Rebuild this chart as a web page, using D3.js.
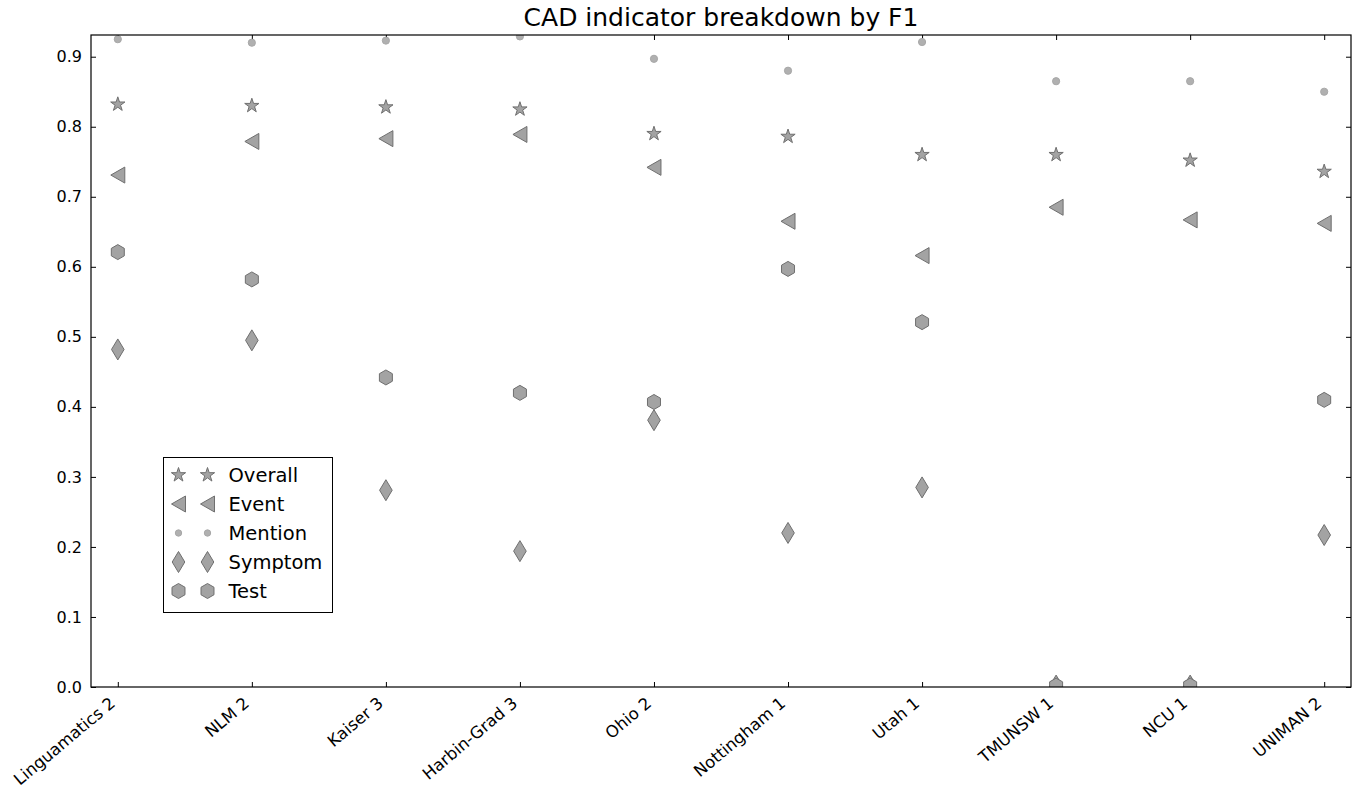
<!DOCTYPE html>
<html>
<head>
<meta charset="utf-8">
<script src="https://cdn.jsdelivr.net/npm/d3@7"></script>
<style>
  body { margin: 0; background: #fff; }
  svg { font-family: "DejaVu Sans", sans-serif; }
</style>
</head>
<body>
<div id="chart"></div>
<script>
(function () {
  "use strict";

  // Data.
  var systems = ["Linguamatics 2", "NLM 2", "Kaiser 3", "Harbin-Grad 3", "Ohio 2",
    "Nottingham 1", "Utah 1", "TMUNSW 1", "NCU 1", "UNIMAN 2"];
  var overall = [0.832, 0.830, 0.828, 0.825, 0.790, 0.786, 0.760, 0.760, 0.752, 0.736];
  var eventF1 = [0.731, 0.779, 0.783, 0.789, 0.742, 0.665, 0.616, 0.685, 0.667, 0.662];
  var mention = [0.925, 0.920, 0.923, 0.929, 0.897, 0.880, 0.921, 0.865, 0.865, 0.850];
  var symptom = [0.482, 0.495, 0.281, 0.194, 0.381, 0.220, 0.285, 0.002, 0.002, 0.217];
  var test = [0.621, 0.582, 0.442, 0.420, 0.407, 0.597, 0.521, 0.002, 0.002, 0.410];
  var yTicks = [0.0, 0.1, 0.2, 0.3, 0.4, 0.5, 0.6, 0.7, 0.8, 0.9];

  var W = 1363, H = 791;
  var m = { left: 91, right: 12, top: 35, bottom: 104 };
  var iw = W - m.left - m.right, ih = H - m.top - m.bottom;

  var FILL = "#a3a3a3", EDGE = "#6f6f6f";

  // Marker shape generators (path strings centred on 0,0).
  function star(r) {
    var pts = [], ri = r * 0.382;
    for (var i = 0; i < 10; i++) {
      var a = -Math.PI / 2 + i * Math.PI / 5, rr = i % 2 ? ri : r;
      pts.push([rr * Math.cos(a), rr * Math.sin(a)]);
    }
    return "M" + pts.join("L") + "Z";
  }
  function triLeft(w, h) { return "M" + (-w) + ",0L" + w + "," + (-h) + "L" + w + "," + h + "Z"; }
  function hexagon(r) {
    var pts = [];
    for (var i = 0; i < 6; i++) {
      var a = -Math.PI / 2 + i * Math.PI / 3;
      pts.push([r * Math.cos(a), r * Math.sin(a)]);
    }
    return "M" + pts.join("L") + "Z";
  }
  function diamond(w, h) { return "M0," + (-h) + "L" + w + ",0L0," + h + "L" + (-w) + ",0Z"; }

  var series = [
    { name: "Overall", values: overall, path: star(7.5), fill: FILL, stroke: EDGE },
    { name: "Event", values: eventF1, path: triLeft(7, 8), fill: FILL, stroke: EDGE },
    { name: "Mention", values: mention, path: null, fill: "#b0b0b0", stroke: "#a8a8a8" },
    { name: "Symptom", values: symptom, path: diamond(6.3, 10.5), fill: FILL, stroke: EDGE },
    { name: "Test", values: test, path: hexagon(7.5), fill: FILL, stroke: EDGE }
  ];

  var x = d3.scaleLinear().domain([-0.2, systems.length - 1 + 0.2]).range([0, iw]);
  var y = d3.scaleLinear().domain([0, 0.931]).range([ih, 0]);

  var svg = d3.select("#chart").append("svg").attr("width", W).attr("height", H);
  var g = svg.append("g").attr("transform", "translate(" + m.left + "," + m.top + ")");

  svg.append("text")
    .attr("x", m.left + iw / 2).attr("y", 26)
    .attr("text-anchor", "middle").attr("font-size", 25).attr("fill", "#000")
    .text("CAD indicator breakdown by F1");

  g.append("clipPath").attr("id", "plotclip")
    .append("rect").attr("width", iw).attr("height", ih);

  // Axes with inward ticks on all four sides.
  var idx = d3.range(systems.length);
  function style(sel) {
    sel.select(".domain").remove();
    sel.selectAll(".tick line").attr("stroke", "#000");
    sel.selectAll(".tick text").attr("fill", "#000").attr("font-family", "DejaVu Sans, sans-serif");
  }
  g.append("g").call(d3.axisLeft(y).tickValues(yTicks).tickFormat(d3.format(".1f")).tickSize(-5).tickPadding(9))
    .call(style).attr("font-size", 16);
  g.append("g").attr("transform", "translate(" + iw + ",0)")
    .call(d3.axisRight(y).tickValues(yTicks).tickSize(-5).tickFormat(""))
    .call(style);
  g.append("g").call(d3.axisTop(x).tickValues(idx).tickSize(-5).tickFormat(""))
    .call(style);
  var xAxis = g.append("g").attr("transform", "translate(0," + ih + ")")
    .call(d3.axisBottom(x).tickValues(idx).tickSize(-5).tickFormat(function (i) { return systems[i]; }))
    .call(style).attr("font-size", 16.5);
  // Labels: baseline end sits just below-left of the tick.
  xAxis.selectAll(".tick text")
    .attr("text-anchor", "end")
    .attr("x", 0).attr("y", 0).attr("dy", 0)
    .attr("transform", "translate(-2,18) rotate(-40)");

  // Markers.
  var plot = g.append("g").attr("clip-path", "url(#plotclip)");
  series.forEach(function (s) {
    var sel = plot.append("g").selectAll(null).data(s.values).join(s.path ? "path" : "circle");
    if (s.path) {
      sel.attr("d", s.path)
        .attr("transform", function (v, i) { return "translate(" + x(i) + "," + y(v) + ")"; });
    } else {
      sel.attr("cx", function (v, i) { return x(i); }).attr("cy", function (v) { return y(v); }).attr("r", 3.6);
    }
    sel.attr("fill", s.fill).attr("stroke", s.stroke).attr("stroke-width", 1);
  });

  // Frame.
  g.append("rect").attr("width", iw).attr("height", ih)
    .attr("fill", "none").attr("stroke", "#000").attr("stroke-width", 1.2);

  // Legend (two sample markers per entry, matplotlib style).
  var lg = svg.append("g").attr("transform", "translate(163.5,457.5)");
  lg.append("rect").attr("width", 169).attr("height", 155)
    .attr("fill", "#fff").attr("stroke", "#000").attr("stroke-width", 1);
  series.forEach(function (s, i) {
    var row = lg.append("g").attr("transform", "translate(0," + (17.5 + i * 29) + ")");
    [15, 44].forEach(function (cx) {
      if (s.path) {
        row.append("path").attr("d", s.path).attr("transform", "translate(" + cx + ",0)")
          .attr("fill", s.fill).attr("stroke", s.stroke);
      } else {
        row.append("circle").attr("cx", cx).attr("r", 3.2).attr("fill", s.fill).attr("stroke", s.stroke);
      }
    });
    row.append("text").attr("x", 65).attr("dy", "0.36em").attr("font-size", 19.5).attr("fill", "#000").text(s.name);
  });
})();
</script>
</body>
</html>
